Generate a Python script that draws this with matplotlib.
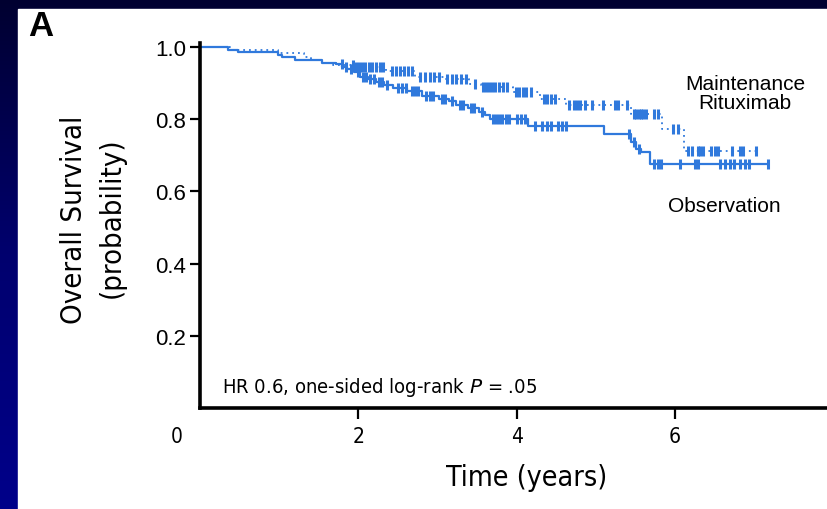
import numpy as np
import matplotlib
matplotlib.use("Agg")
import matplotlib.pyplot as plt
from matplotlib.patches import Rectangle

# ---- data -------------------------------------------------------------
# Kaplan-Meier steps (time in years, survival probability after the event)
maint_t = [0, 0.38, 0.98, 1.32, 1.40, 1.55, 1.68, 1.95, 2.35, 2.72, 3.08,
           3.40, 3.55, 3.95, 4.29, 4.62, 5.44, 5.84, 6.12]
maint_s = [1.0, 0.992, 0.983, 0.972, 0.964, 0.956, 0.950, 0.945, 0.934,
           0.917, 0.912, 0.898, 0.889, 0.876, 0.857, 0.839, 0.814, 0.773,
           0.712]
maint_end = 7.05
maint_cens = [1.93, 1.97, 2.01, 2.05, 2.09, 2.13, 2.17, 2.22, 2.27, 2.31,
              2.42, 2.47, 2.53, 2.58, 2.63, 2.68, 2.78, 2.84, 2.90, 2.96,
              3.02, 3.12, 3.18, 3.24, 3.30, 3.36, 3.47, 3.57, 3.61, 3.65,
              3.69, 3.73, 3.78, 3.83, 3.88, 3.99, 4.03, 4.08, 4.12, 4.18,
              4.34, 4.38, 4.43, 4.48, 4.66, 4.72, 4.76, 4.80, 4.87, 4.95,
              5.09, 5.24, 5.28, 5.39, 5.48, 5.51, 5.54, 5.57, 5.60, 5.64,
              5.74, 5.78, 5.97, 6.04, 6.16, 6.21, 6.29, 6.32, 6.35, 6.46,
              6.50, 6.54, 6.72, 6.82, 6.86, 7.03]

obs_t = [0, 0.35, 0.48, 0.98, 1.04, 1.20, 1.54, 1.72, 1.80, 1.86, 1.95,
         2.02, 2.12, 2.22, 2.32, 2.44, 2.62, 2.80, 3.02, 3.14, 3.24, 3.38,
         3.52, 3.60, 3.66, 4.14, 5.10, 5.45, 5.51, 5.57, 5.68]
obs_s = [1.0, 0.992, 0.985, 0.978, 0.971, 0.964, 0.957, 0.952, 0.946, 0.938,
         0.931, 0.917, 0.910, 0.902, 0.894, 0.887, 0.879, 0.864, 0.856,
         0.850, 0.838, 0.830, 0.820, 0.812, 0.800, 0.781, 0.759,
         0.737, 0.717, 0.709, 0.676]
obs_end = 7.17
obs_cens = [1.79, 1.84, 1.91, 2.00, 2.06, 2.10, 2.15, 2.20, 2.26, 2.30, 2.36,
            2.50, 2.55, 2.60, 2.68, 2.72, 2.76, 2.85, 2.90, 2.94, 3.06, 3.10,
            3.18, 3.28, 3.32, 3.42, 3.46, 3.56, 3.70, 3.74, 3.78, 3.82, 3.86,
            3.90, 4.00, 4.05, 4.10, 4.23, 4.32, 4.39, 4.44, 4.52, 4.57, 4.63,
            5.42, 5.48, 5.54, 5.74, 5.78, 5.83, 6.06, 6.25, 6.29, 6.57, 6.63,
            6.69, 6.75, 6.82, 6.88, 6.94, 7.17]

y_ticks = [0.2, 0.4, 0.6, 0.8, 1.0]
y_ticklabels = ["0.2", "0.4", "0.6", "0.8", "1.0"]
x_ticks = [2, 4, 6, 8]
x_ticklabels = ["2", "4", "6", ""]

regular = "Liberation Sans"
narrow = dict(fontfamily="DejaVu Sans", fontstretch="condensed")

W, H = 828, 510
fig = plt.figure(figsize=(W / 100, H / 100), dpi=100)


def fx(px):
    return px / W


def fy(py):
    return 1 - py / H


# dark slide frame with a vertical gradient, white panel on top
bg = fig.add_axes([0, 0, 1, 1], zorder=-10)
grad = np.linspace(0, 1, 256)[:, None]
cmap = matplotlib.colors.LinearSegmentedColormap.from_list(
    "frame", ["#000030", "#00006e", "#00008a"])
bg.imshow(grad, aspect="auto", cmap=cmap, extent=[0, 1, 0, 1], origin="upper")
bg.add_patch(Rectangle((fx(18), 0), 1 - fx(18), fy(10), color="white"))
bg.set_xlim(0, 1)
bg.set_ylim(0, 1)
bg.axis("off")

blue = "#3079dc"

ax = fig.add_axes([fx(200), fy(409), (857 - 200) / W, (409 - 44.4) / H])
ax.set_xlim(0, 8.3)
ax.set_ylim(0, 1.01)
ax.patch.set_alpha(0)


def km(t, s, end):
    return list(t) + [end], list(s) + [s[-1]]


def surv_at(t, s, x):
    i = np.searchsorted(np.asarray(t), x, side="right") - 1
    return np.asarray(s)[i]


mt, ms = km(maint_t, maint_s, maint_end)
ax.step(mt, ms, where="post", color=blue, lw=1.3, linestyle=(0, (1, 2.2)))
ax.plot(maint_cens, surv_at(maint_t, maint_s, maint_cens), linestyle="none",
        marker="|", ms=6.5, mew=2.2, color=blue)

ot, os_ = km(obs_t, obs_s, obs_end)
ax.step(ot, os_, where="post", color=blue, lw=1.6)
ax.plot(obs_cens, surv_at(obs_t, obs_s, obs_cens), linestyle="none",
        marker="|", ms=6.5, mew=2.2, color=blue)

for side in ("top", "right"):
    ax.spines[side].set_visible(False)
for side in ("left", "bottom"):
    ax.spines[side].set_linewidth(2.6)
    ax.spines[side].set_color("black")

ax.set_yticks(y_ticks)
ax.set_yticklabels(y_ticklabels, fontfamily=regular, fontsize=16)
ax.set_xticks(x_ticks)
ax.set_xticklabels(x_ticklabels, fontsize=15, **narrow)
ax.tick_params(axis="y", direction="out", length=7, width=1.6, pad=3)
ax.tick_params(axis="x", direction="out", length=8, width=1.6, pad=5)
ax.text(-0.29, -0.077, "0", transform=ax.get_xaxis_transform(),
        ha="center", va="center", fontsize=15, **narrow)

fig.text(fx(41), fy(26), "A", fontfamily=regular, fontweight="bold",
         fontsize=25, ha="center", va="center")
fig.text(fx(74), fy(220), "Overall Survival", rotation=90,
         fontsize=21, ha="center", va="center", **narrow)
fig.text(fx(112), fy(218), "(probability)", rotation=90,
         fontsize=21, ha="center", va="center", **narrow)
fig.text(fx(527), fy(478), "Time (years)", fontsize=20.5,
         ha="center", va="center", **narrow)
fig.text(fx(222), fy(388),
         r"HR 0.6, one-sided log-rank $\it{P}$ = .05",
         fontsize=14.5, ha="left", va="center", **narrow)
fig.text(fx(745), fy(94), "Maintenance\nRituximab", fontfamily=regular,
         fontsize=15, ha="center", va="center", linespacing=1.05)
fig.text(fx(724), fy(207), "Observation", fontfamily=regular, fontsize=15,
         ha="center", va="center")

fig.savefig("out.png", dpi=100)
